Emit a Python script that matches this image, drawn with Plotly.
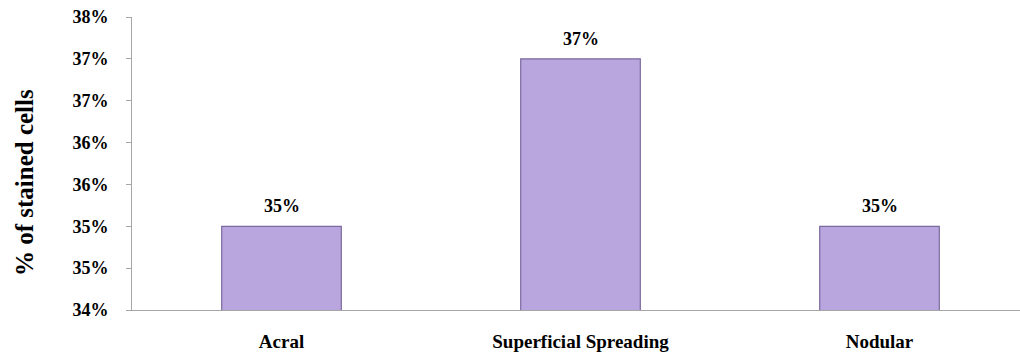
import plotly.graph_objects as go

# Share of stained cells per melanoma subtype
subtypes = ["Acral", "Superficial Spreading", "Nodular"]
stained_pct = [35.0, 37.0, 35.0]

# Y axis ticks every half percent, labelled rounded to whole percent
y_tickvals = [34.0, 34.5, 35.0, 35.5, 36.0, 36.5, 37.0, 37.5]
y_ticktext = ["34%", "35%", "35%", "36%", "36%", "37%", "37%", "38%"]

serif = "Liberation Serif, Times New Roman, serif"

fig = go.Figure()
fig.add_trace(go.Bar(
    x=subtypes,
    y=stained_pct,
    width=0.40,
    marker=dict(color="#B9A6DE", line=dict(color="#7A6A9E", width=1.2)),
    hoverinfo="skip",
))

# Value labels above each bar
for name, v in zip(subtypes, stained_pct):
    fig.add_annotation(
        x=name, y=v, text=f"{v:.0f}%", showarrow=False,
        yanchor="bottom", yshift=8,
        font=dict(family=serif, size=18, color="#000000", weight="bold"),
    )

# Rotated y title
fig.add_annotation(
    xref="paper", yref="paper", x=-0.121, y=0.435,
    text="% of stained cells", textangle=-90, showarrow=False,
    xanchor="center", yanchor="middle",
    font=dict(family=serif, size=25, color="#000000", weight="bold"),
)

fig.update_layout(
    width=1020, height=354,
    margin=dict(l=132, r=0, t=17, b=44),
    paper_bgcolor="white", plot_bgcolor="white",
    showlegend=False,
    font=dict(family=serif, color="#000000"),
    xaxis=dict(
        range=[-0.5, -0.5 + 888 / 299],
        showline=True, linecolor="#A6A6A6", linewidth=1,
        showgrid=False, ticks="",
        tickfont=dict(family=serif, size=19, color="#000000", weight="bold"),
        ticklabelstandoff=14,
    ),
    yaxis=dict(
        range=[34.0, 37.5],
        tickvals=y_tickvals, ticktext=y_ticktext,
        showline=True, linecolor="#A6A6A6", linewidth=1,
        showgrid=False, zeroline=False,
        ticks="outside", ticklen=5, tickcolor="#A6A6A6",
        tickfont=dict(family=serif, size=18, color="#000000", weight="bold"),
        ticklabelstandoff=14,
    ),
)

fig.write_html("out.html")
